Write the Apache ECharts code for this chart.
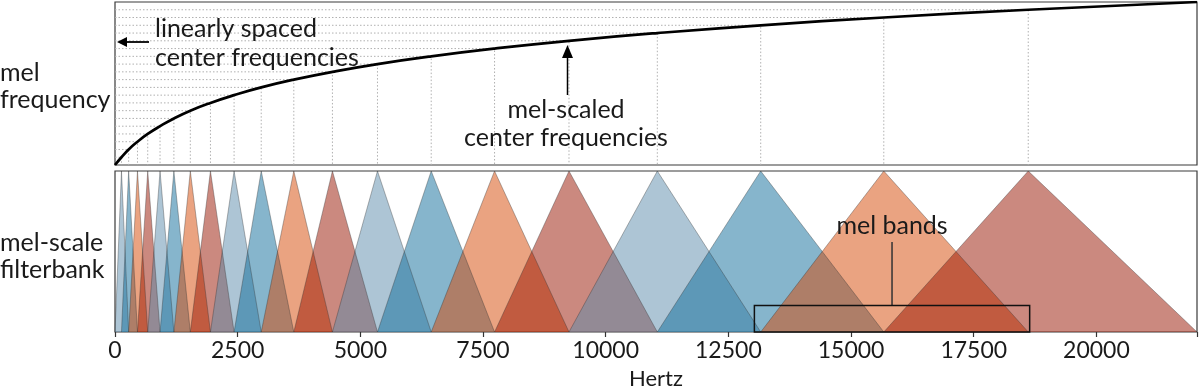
<!DOCTYPE html>
<html>
<head>
<meta charset="utf-8">
<script src="https://cdn.jsdelivr.net/npm/echarts@6/dist/echarts.min.js"></script>
<style>
html,body{margin:0;padding:0;background:#fff;}
#chart{width:1200px;height:391px;}
</style>
</head>
<body>
<div id="chart"></div>
<script>
// Center / edge frequencies (Hz) of the mel filterbank
const hzPoints = [0, 132, 278, 458, 667, 918, 1200, 1535, 1945, 2427, 2980, 3644, 4431, 5349, 6444, 7735, 9252, 11052, 13159, 15667, 18611, 22050];
// Linearly spaced mel levels (one per point above)
const melLevels = [0, 1, 2, 3, 4, 5, 6, 7, 8, 9, 10, 11, 12, 13, 14, 15, 16, 17, 18, 19, 20, 21];
// Tick labels on the Hertz axis
const xTicks = [0, 2500, 5000, 7500, 10000, 12500, 15000, 17500, 20000];
const xMax = 22050;
// Repeating filter colours
const bandColors = ['#5b8bab', '#0d6b99', '#d54703', '#971300'];
// "mel bands" box extent: Hz range and height in filter-gain units
const boxHz = [13030, 18640];
const boxHeight = 0.165;

const FONT = 'Lato';
const TXT = '#1a1a1a';

const chart = echarts.init(document.getElementById('chart'), null, {renderer: 'canvas'});

const series = [];
// dotted guide lines in the top panel
for (let i = 1; i < hzPoints.length - 1; i++) {
  series.push({
    type: 'line', xAxisIndex: 0, yAxisIndex: 0, silent: true,
    symbol: 'none', z: 1,
    data: [[0, melLevels[i]], [hzPoints[i], melLevels[i]], [hzPoints[i], 0]],
    lineStyle: {color: '#b0b0b0', width: 1, type: [1.5, 2]}
  });
}
// mel curve
series.push({
  type: 'line', xAxisIndex: 0, yAxisIndex: 0, symbol: 'none', z: 5,
  smooth: 0.5,
  data: hzPoints.map((h, i) => [h, melLevels[i]]),
  lineStyle: {color: '#000', width: 2.7}
});
// triangular filters
for (let i = 0; i < hzPoints.length - 2; i++) {
  series.push({
    type: 'line', xAxisIndex: 1, yAxisIndex: 1, symbol: 'none', z: 2,
    data: [[hzPoints[i], 0], [hzPoints[i + 1], 1], [hzPoints[i + 2], 0]],
    lineStyle: {color: 'rgba(50,50,50,0.45)', width: 0.8},
    areaStyle: {color: bandColors[i % 4], opacity: 0.5}
  });
}

const option = {
  animation: false,
  backgroundColor: '#fff',
  grid: [
    {left: 115, right: 3, top: 2, height: 163, show: true, borderColor: '#3a3a3a', borderWidth: 1.2, backgroundColor: 'transparent'},
    {left: 115, right: 3, top: 171, height: 164, show: true, borderColor: '#3a3a3a', borderWidth: 1.2, backgroundColor: 'transparent'}
  ],
  xAxis: [
    {type: 'value', gridIndex: 0, min: 0, max: xMax, axisLine: {show: false}, axisTick: {show: false}, axisLabel: {show: false}, splitLine: {show: false}},
    {type: 'value', gridIndex: 1, min: 0, max: xMax, interval: 2500,
      name: 'Hertz', nameLocation: 'middle', nameGap: 36,
      nameTextStyle: {fontFamily: FONT, fontSize: 22, color: TXT},
      axisLine: {show: false},
      axisTick: {show: true, length: 5, lineStyle: {color: '#333', width: 1.2}},
      axisLabel: {show: true, margin: 7, fontFamily: FONT, fontSize: 23, color: TXT,
        formatter: v => (xTicks.indexOf(v) >= 0 ? String(v) : '')},
      splitLine: {show: false}}
  ],
  yAxis: [
    {type: 'value', gridIndex: 0, min: 0, max: melLevels[melLevels.length - 1], axisLine: {show: false}, axisTick: {show: false}, axisLabel: {show: false}, splitLine: {show: false}},
    {type: 'value', gridIndex: 1, min: 0, max: 1, axisLine: {show: false}, axisTick: {show: false}, axisLabel: {show: false}, splitLine: {show: false}}
  ],
  series: series
};
chart.setOption(option);

// annotations
const p0 = chart.convertToPixel({gridIndex: 1}, [boxHz[0], 0]);
const p1 = chart.convertToPixel({gridIndex: 1}, [boxHz[1], boxHeight]);
const boxMid = (p0[0] + p1[0]) / 2;

const textStyle = (extra) => Object.assign({fontFamily: FONT, fontSize: 25, fill: TXT}, extra);

chart.setOption({
  graphic: [
    {type: 'text', z: 100, left: 0, top: 59, style: textStyle({text: 'mel\nfrequency', lineHeight: 27})},
    {type: 'text', z: 100, left: 0, top: 229, style: textStyle({text: 'mel-scale\nfilterbank', lineHeight: 27})},
    {type: 'text', z: 100, x: 155, y: 14, style: textStyle({text: 'linearly spaced\ncenter frequencies', lineHeight: 29})},
    {type: 'line', z: 100, shape: {x1: 149, y1: 42, x2: 124, y2: 42}, style: {stroke: '#000', lineWidth: 1.8}},
    {type: 'polygon', z: 100, shape: {points: [[117, 42], [127, 37], [127, 47]]}, style: {fill: '#000'}},
    {type: 'text', z: 100, x: 566, y: 96, style: textStyle({text: 'mel-scaled\ncenter frequencies', lineHeight: 28, textAlign: 'center'})},
    {type: 'line', z: 100, shape: {x1: 567.5, y1: 95, x2: 567.5, y2: 56}, style: {stroke: '#000', lineWidth: 1.5}},
    {type: 'polygon', z: 100, shape: {points: [[567.5, 45], [562, 58], [573, 58]]}, style: {fill: '#000'}},
    {type: 'text', z: 100, x: boxMid, y: 213, style: textStyle({text: 'mel bands', textAlign: 'center'})},
    {type: 'line', z: 100, shape: {x1: boxMid, y1: 242, x2: boxMid, y2: p1[1]}, style: {stroke: '#333', lineWidth: 1.5}},
    {type: 'rect', z: 100, shape: {x: p0[0], y: p1[1], width: p1[0] - p0[0], height: p0[1] - p1[1]}, style: {fill: 'none', stroke: '#111', lineWidth: 1.5}}
  ]
});
</script>
</body>
</html>
